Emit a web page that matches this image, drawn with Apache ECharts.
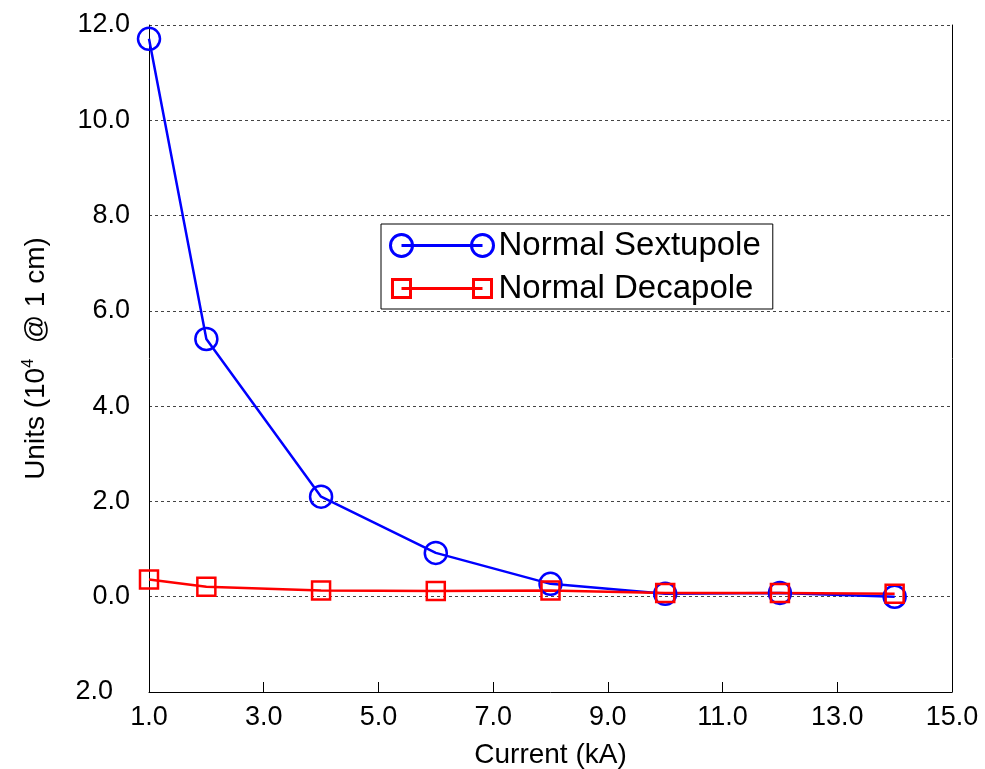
<!DOCTYPE html>
<html lang="en">
<head>
    <meta charset="UTF-8">
    <title>Multipoles vs Current</title>
    <script src="https://cdn.jsdelivr.net/npm/echarts@6/dist/echarts.min.js"></script>
</head>
<body style="margin:0">

<div id="main" style="width: 985px;height:769px;"></div>
<script type="text/javascript">
    // data
    var current = [1, 2, 4, 6, 8, 10, 12, 14];
    var sextupole = [11.71, 5.41, 2.10, 0.92, 0.27, 0.06, 0.08, 0.0];
    var decapole = [0.36, 0.21, 0.13, 0.12, 0.13, 0.08, 0.08, 0.06];

    var xTicks = [1, 3, 5, 7, 9, 11, 13, 15];
    var xTickLabels = ['1.0', '3.0', '5.0', '7.0', '9.0', '11.0', '13.0', '15.0'];
    var yTickLabels = ['2.0', '0.0', '2.0', '4.0', '6.0', '8.0', '10.0', '12.0'];

    var font = 'Arial, "Liberation Sans", sans-serif';
    var chart = echarts.init(document.getElementById('main'));

    function pairs(ys) {
        return current.map(function (x, i) { return [x, ys[i]]; });
    }

    var option = {
        animation: false,
        textStyle: { fontFamily: font },
        grid: { left: 149, right: 33, top: 25, bottom: 77, outerBoundsMode: 'none', containLabel: false },
        legend: {
            orient: 'vertical',
            left: 381,
            top: 224,
            padding: [5, 12, 4, 7],
            itemGap: 10,
            itemWidth: 103,
            itemHeight: 22,
            borderColor: '#000',
            borderWidth: 1,
            textStyle: { fontFamily: font, fontSize: 33, color: '#000', lineHeight: 32 },
            data: [{
                name: 'Normal Sextupole',
                icon: 'path://M-11,0A11,11,0,1,0,11,0A11,11,0,1,0,-11,0M0,0L81,0M70,0A11,11,0,1,0,92,0A11,11,0,1,0,70,0',
                itemStyle: { color: 'none', borderColor: '#0000ff', borderWidth: 3 }
            }, {
                name: 'Normal Decapole',
                icon: 'path://M-11,-11M92,11M-9,-9L9,-9L9,9L-9,9ZM0,0L81,0M72,-9L90,-9L90,9L72,9Z',
                itemStyle: { color: 'none', borderColor: '#ff0000', borderWidth: 3 }
            }]
        },
        xAxis: {
            type: 'value',
            min: 1,
            max: 15,
            name: 'Current (kA)',
            nameLocation: 'middle',
            nameGap: 49,
            nameTextStyle: { fontSize: 28, color: '#000', fontFamily: font },
            axisLine: { onZero: false, lineStyle: { color: '#000', width: 1 } },
            axisTick: { inside: true, length: 10, customValues: xTicks, lineStyle: { color: '#000' } },
            axisLabel: {
                customValues: xTicks,
                margin: 12,
                fontSize: 27,
                color: '#000',
                fontFamily: font,
                formatter: function (v) { return xTickLabels[xTicks.indexOf(v)]; }
            },
            splitLine: { show: false }
        },
        yAxis: [{
            type: 'value',
            min: -2,
            max: 12,
            interval: 2,
            name: 'Units (10{sup|4}  @ 1 cm)',
            nameLocation: 'middle',
            nameGap: 98,
            nameTextStyle: {
                fontSize: 28, color: '#000', fontFamily: font,
                rich: { sup: { fontSize: 16, color: '#000', padding: [0, 0, 14, 0], fontFamily: font } }
            },
            axisLine: { show: true, lineStyle: { color: '#000', width: 1 } },
            axisTick: { show: false },
            axisLabel: {
                margin: 19,
                fontSize: 27,
                color: '#000',
                fontFamily: font,
                formatter: function (v) {
                    var s = yTickLabels[Math.round((v + 2) / 2)];
                    return v < 0 ? '{neg|' + s + '}' : s;
                },
                rich: { neg: { fontSize: 27, color: '#000', fontFamily: font, padding: [0, 17, 0, 0] } }
            },
            splitLine: { lineStyle: { color: '#444', type: [3, 3], width: 1 } }
        }, {
            type: 'value',
            position: 'right',
            min: -2,
            max: 12,
            interval: 2,
            axisLine: { show: true, lineStyle: { color: '#000', width: 1 } },
            axisTick: { show: false },
            axisLabel: { show: false },
            splitLine: { show: false }
        }],
        series: [{
            name: 'Normal Sextupole',
            type: 'line',
            data: pairs(sextupole),
            symbol: 'circle',
            symbolSize: 22,
            itemStyle: { color: 'rgba(0,0,0,0)', borderColor: '#0000ff', borderWidth: 2.5 },
            lineStyle: { color: '#0000ff', width: 2.5 }
        }, {
            name: 'Normal Decapole',
            type: 'line',
            data: pairs(decapole),
            symbol: 'rect',
            symbolSize: 18,
            itemStyle: { color: 'rgba(0,0,0,0)', borderColor: '#ff0000', borderWidth: 2.5 },
            lineStyle: { color: '#ff0000', width: 2.5 }
        }]
    };

    chart.setOption(option);
</script>
</body>
</html>
